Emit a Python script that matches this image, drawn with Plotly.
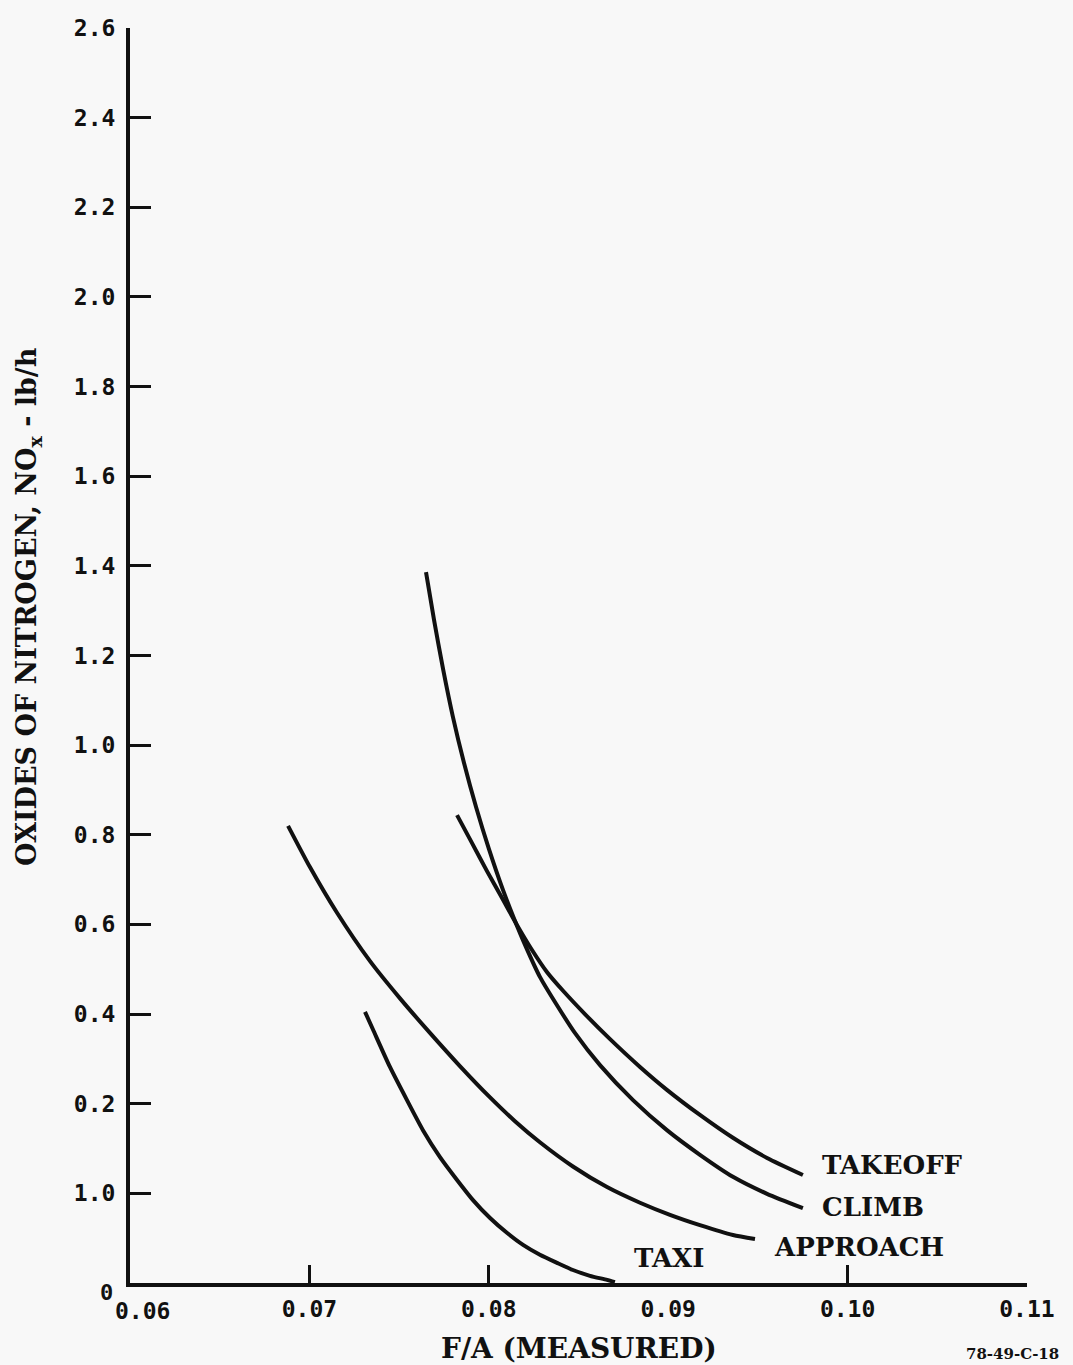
import plotly.graph_objects as go

# Fuel/air ratio (measured) and NOx emission curves, one per engine mode.
# y values are in plotted axis units (tick positions 0 .. 2.8).
takeoff_fa = [0.07823, 0.07906, 0.07990, 0.08074, 0.08157, 0.08241, 0.08324, 0.08414,
              0.08536, 0.08676, 0.08843, 0.08993, 0.09177, 0.09361, 0.09551, 0.09751]
takeoff_nox = [1.044, 0.982, 0.919, 0.859, 0.799, 0.743, 0.694, 0.652,
               0.600, 0.544, 0.482, 0.431, 0.375, 0.324, 0.279, 0.241]

climb_fa = [0.07650, 0.07695, 0.07745, 0.07800, 0.07862, 0.07929, 0.08001, 0.08079,
            0.08140, 0.08207, 0.08285, 0.08375, 0.08480, 0.08620, 0.08804, 0.08993,
            0.09177, 0.09361, 0.09551, 0.09751]
climb_nox = [1.586, 1.479, 1.370, 1.263, 1.160, 1.062, 0.968, 0.877,
             0.814, 0.750, 0.683, 0.623, 0.558, 0.486, 0.408, 0.341,
             0.286, 0.237, 0.199, 0.167]

approach_fa = [0.06881, 0.07003, 0.07154, 0.07338, 0.07505, 0.07672, 0.07839, 0.08007,
               0.08146, 0.08285, 0.08469, 0.08659, 0.08843, 0.09010, 0.09177, 0.09361,
               0.09484]
approach_nox = [1.020, 0.928, 0.826, 0.718, 0.635, 0.558, 0.484, 0.414,
                0.361, 0.314, 0.260, 0.214, 0.179, 0.152, 0.129, 0.107,
                0.098]

taxi_fa = [0.07310, 0.07355, 0.07449, 0.07544, 0.07633, 0.07728, 0.07823, 0.07912,
           0.08007, 0.08101, 0.08191, 0.08285, 0.08380, 0.08469, 0.08564, 0.08659,
           0.08703]
taxi_nox = [0.605, 0.565, 0.482, 0.408, 0.341, 0.281, 0.230, 0.185,
            0.145, 0.112, 0.085, 0.063, 0.045, 0.029, 0.016, 0.007,
            0.002]

# Axis ticks (positions and the labels printed beside them)
y_tick_pos = [0.2, 0.4, 0.6, 0.8, 1.0, 1.2, 1.4, 1.6, 1.8, 2.0, 2.2, 2.4, 2.6, 2.8]
y_tick_text = ["1.0", "0.2", "0.4", "0.6", "0.8", "1.0", "1.2", "1.4",
               "1.6", "1.8", "2.0", "2.2", "2.4", "2.6"]
x_label_pos = [0.07, 0.08, 0.09, 0.10, 0.11]
x_label_text = ["0.07", "0.08", "0.09", "0.10", "0.11"]
x_tick_marks = [0.07, 0.08, 0.10, 0.11]

INK = "#111111"
PAPER = "#f8f8f8"
SERIF = "DejaVu Serif"
MONO = "DejaVu Sans Mono"

fig = go.Figure()

series = [
    ("TAKEOFF", takeoff_fa, takeoff_nox),
    ("CLIMB", climb_fa, climb_nox),
    ("APPROACH", approach_fa, approach_nox),
    ("TAXI", taxi_fa, taxi_nox),
]
for name, xs, ys in series:
    fig.add_trace(go.Scatter(
        x=xs, y=ys, mode="lines", name=name,
        line=dict(color=INK, width=4, shape="spline", smoothing=0.6),
        showlegend=False, hoverinfo="skip",
    ))

# empty trace so the overlay axis carrying the tick marks is drawn
fig.add_trace(go.Scatter(x=[], y=[], xaxis="x2", yaxis="y", showlegend=False))

# curve labels at the right-hand ends
curve_labels = [
    ("TAKEOFF", 0.09846, 0.263),
    ("CLIMB", 0.09846, 0.170),
    ("APPROACH", 0.09579, 0.080),
    ("TAXI", 0.08798, 0.056),
]
for text, lx, ly in curve_labels:
    fig.add_annotation(
        x=lx, y=ly, xref="x", yref="y", text=f"<b>{text}</b>",
        showarrow=False, xanchor="left", yanchor="middle",
        font=dict(family=SERIF, size=26, color=INK),
    )

# y-axis title
fig.add_annotation(
    x=0, y=1.508, xref="paper", yref="y", xshift=-102,
    text="<b>OXIDES OF NITROGEN, NO<sub>x</sub> - lb/h</b>",
    textangle=-90, showarrow=False, xanchor="center", yanchor="middle",
    font=dict(family=SERIF, size=27, color=INK),
)
# x-axis title
fig.add_annotation(
    x=0.5, y=0, xref="paper", yref="paper", yshift=-65,
    text="<b>F/A (MEASURED)</b>", showarrow=False,
    xanchor="center", yanchor="middle",
    font=dict(family=SERIF, size=28, color=INK),
)
# origin labels
fig.add_annotation(
    x=0.06, y=0, xref="x", yref="y", xshift=-24, yshift=-9,
    text="<b>0</b>", showarrow=False, xanchor="center", yanchor="middle",
    font=dict(family=MONO, size=22, color=INK),
)
fig.add_annotation(
    x=0.06, y=0, xref="x", yref="y", xshift=-17, yshift=-28,
    text="<b>0.06</b>", showarrow=False, xanchor="left", yanchor="middle",
    font=dict(family=MONO, size=23, color=INK),
)
# drawing number
fig.add_annotation(
    x=1, y=0, xref="paper", yref="paper", xshift=34, yshift=-71,
    text="<b>78-49-C-18</b>", showarrow=False, xanchor="right", yanchor="middle",
    font=dict(family=SERIF, size=15, color=INK),
)

fig.update_layout(
    width=1073, height=1365,
    margin=dict(l=130, r=46, t=28, b=82),
    paper_bgcolor=PAPER, plot_bgcolor=PAPER,
    xaxis=dict(
        range=[0.06, 0.110002], tickmode="array",
        tickvals=x_label_pos, ticktext=x_label_text,
        ticks="", showgrid=False, zeroline=False,
        showline=True, linecolor=INK, linewidth=4,
        tickfont=dict(family=MONO, size=23, color=INK, weight="bold"),
        ticklabelstandoff=2,
    ),
    xaxis2=dict(
        range=[0.06, 0.110002], overlaying="x", anchor="y",
        tickmode="array", tickvals=x_tick_marks,
        ticks="inside", ticklen=18, tickwidth=3, tickcolor=INK,
        showticklabels=False, showgrid=False, zeroline=False, showline=False,
    ),
    yaxis=dict(
        range=[0, 2.80002], tickmode="array",
        tickvals=y_tick_pos, ticktext=y_tick_text,
        ticks="inside", ticklen=21, tickwidth=3, tickcolor=INK,
        showgrid=False, zeroline=False,
        showline=True, linecolor=INK, linewidth=4,
        tickfont=dict(family=MONO, size=23, color=INK, weight="bold"),
        ticklabelstandoff=6,
    ),
)

fig.write_html("out.html")
